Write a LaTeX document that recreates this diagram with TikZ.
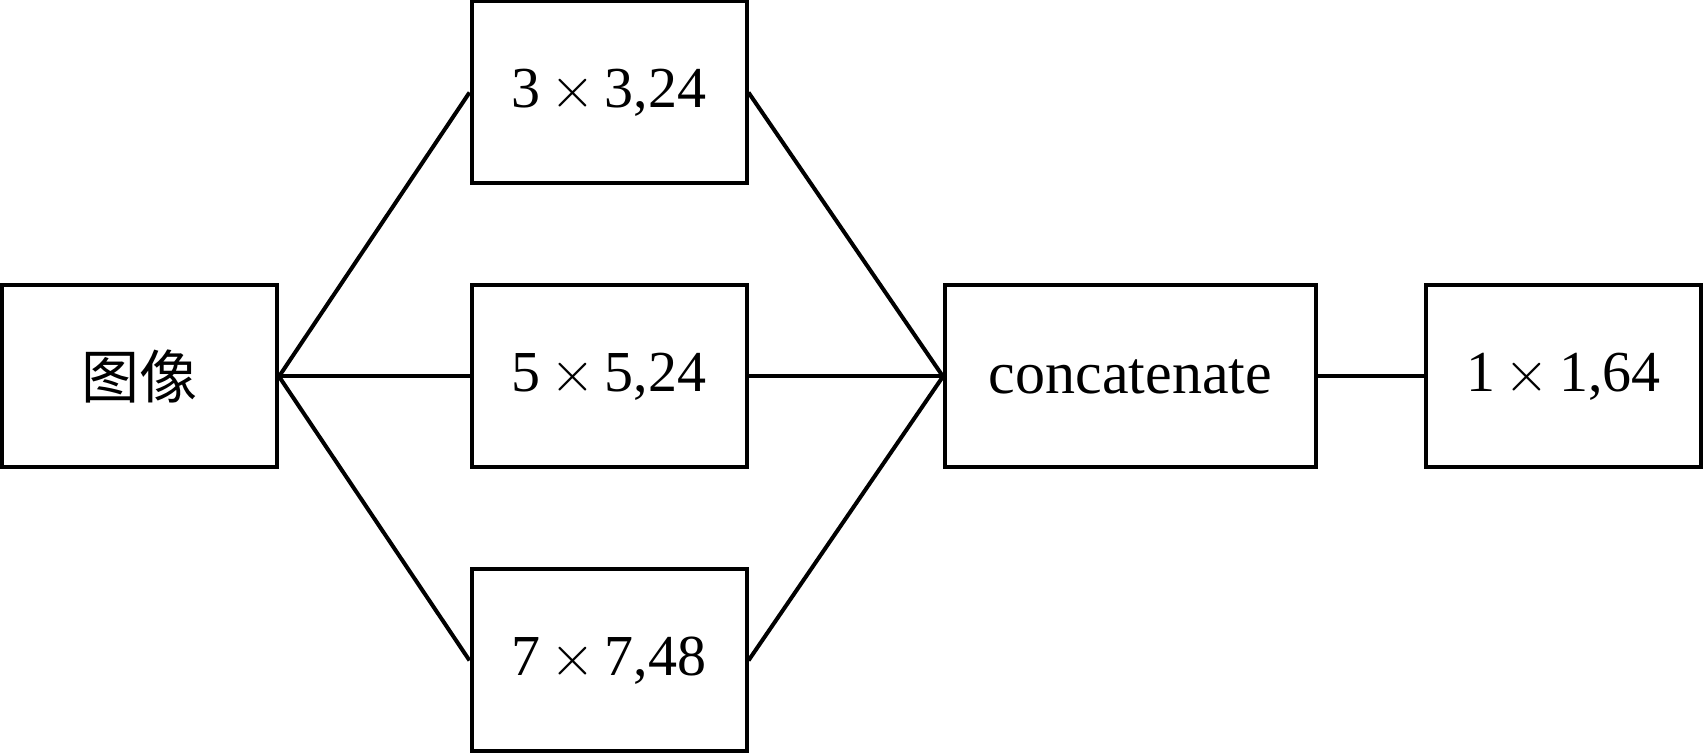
\documentclass[tikz,border=0pt]{standalone}
\usepackage{fontspec}
\setmainfont{Liberation Serif}
\newfontfamily\cjk{Noto Sans CJK SC}
\usepackage{tikz}
\tikzset{
  block/.style={
    draw, line width=1pt, rectangle,
    minimum width=68.75pt, minimum height=45.5pt,
    inner sep=0pt, font=\fontsize{14.5pt}{17pt}\selectfont
  }}
\tikzset{
  wide block/.style={block, minimum width=92.75pt}}
\tikzset{link/.style={line width=1pt}}
\newcommand{\by}{\,$\times$\,}

\begin{document}
\begin{tikzpicture}[x=0.25pt,y=-0.25pt]
    \useasboundingbox (0,0) rectangle (1704,755);
    \node[block] (img) at (139.5,376.5) {\cjk 图像};
    \begin{scope}
        \node[block] (k3) at (609,92.5) {3\by 3,24};
        \node[block] (k5) at (609,376.5) {5\by 5,24};
        \node[block] (k7) at (609,660.5) {7\by 7,48};
    \end{scope}
    \node[wide block] (cat) at (1130.5,376.5) {\fontsize{15pt}{17pt}\selectfont concatenate};
    \node[block] (out) at (1563.5,376.5) {1\by 1,64};
    \foreach \k in {k3,k5,k7}{
        \draw[link] (img.east)--(\k.west);
        \draw[link] (\k.east)--(cat.west);
    }
    \draw[link] (cat)--(out);
\end{tikzpicture}
\end{document}
